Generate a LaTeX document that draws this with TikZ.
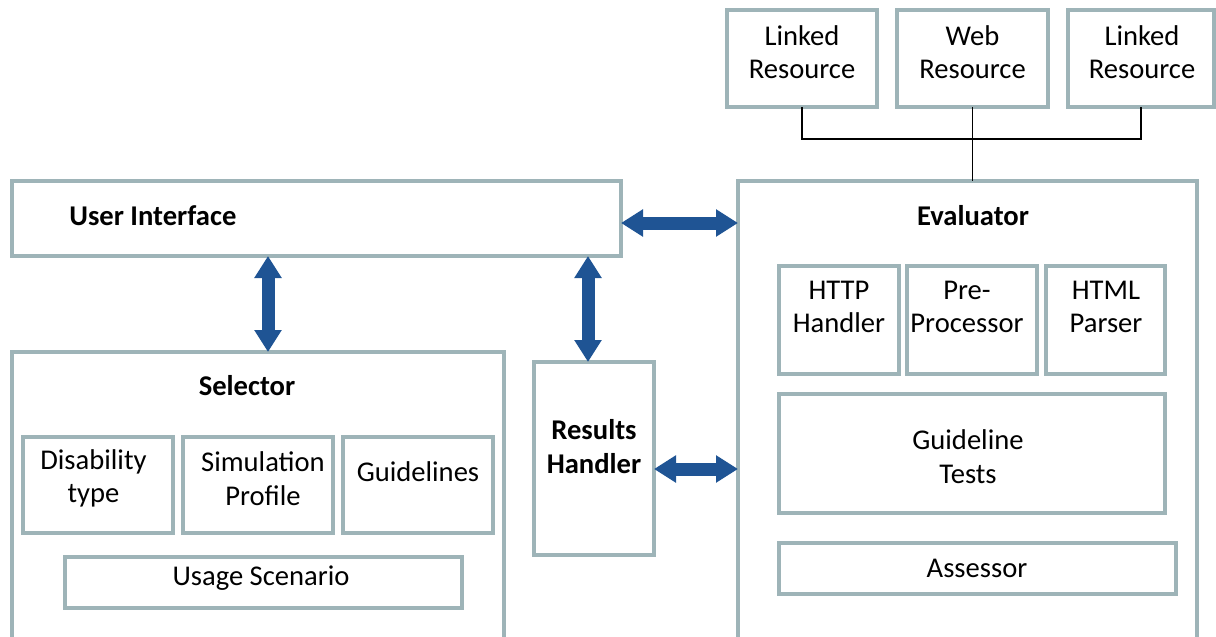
\documentclass[tikz,border=0pt]{standalone}
\usepackage{fontspec}
\setmainfont{Carlito}
\usetikzlibrary{arrows.meta}
\definecolor{boxc}{RGB}{158,180,184}
\definecolor{arrc}{RGB}{31,84,148}
\begin{document}
\begin{tikzpicture}[x=0.5pt,y=-0.5pt,
  box/.style={draw=boxc,line width=2pt,fill=white,inner sep=0pt,outer sep=0pt},
  txt/.style={inner sep=0pt,align=center,font=\fontsize{14.3pt}{16.8pt}\selectfont},
  btxt/.style={txt,font=\fontsize{14.3pt}{16.8pt}\selectfont\bfseries},
  link/.style={draw=black,line width=0.8pt},
  dbl/.style={draw=arrc,line width=6.5pt,{Triangle[width=13pt,length=11pt]}-{Triangle[width=13pt,length=11pt]},shorten <=0pt,shorten >=0pt}]
\useasboundingbox (0,0) rectangle (1216,637);
\clip (0,0) rectangle (1216,637);
% resources
\node[box,minimum width=75pt,minimum height=48.5pt] (lr1) at (802,58.5) {};
\node[box,minimum width=75.5pt,minimum height=48.5pt] (web) at (972.5,58.5) {};
\node[box,minimum width=73pt,minimum height=48.5pt] (lr2) at (1141,58.5) {};
\node[txt] (lr1t) at (802,52) {Linked\\Resource};
\node[txt] (webt) at (972.5,52) {Web\\Resource};
\node[txt] (lr2t) at (1142,52) {Linked\\Resource};
% main boxes
\node[box,minimum width=304.5pt,minimum height=37.5pt] (ui) at (316.5,218.5) {};
\node[btxt,anchor=west] (uit) at (69,216) {User Interface};
\node[box,minimum width=229.5pt,minimum height=239.5pt] (ev) at (967.5,420.5) {};
\node[btxt] (evt) at (973,216) {Evaluator};
\node[box,minimum width=246pt,minimum height=154pt] (sel) at (258,506) {};
\node[btxt] (selt) at (247,386) {Selector};
\node[box,minimum width=60pt,minimum height=96.5pt] (rh) at (594,458.5) {};
\node[btxt] (rht) at (594,446.5) {Results\\Handler};
% selector parts
\node[box,minimum width=75pt,minimum height=48pt] (dis) at (98,485) {};
\node[box,minimum width=75pt,minimum height=48pt] (sim) at (258,485) {};
\node[box,minimum width=75pt,minimum height=48pt] (gui) at (418,485) {};
\node[box,minimum width=198.5pt,minimum height=25.5pt] (use) at (263.5,582.5) {};
\node[txt] (dist) at (93.5,478.5) {Disability\\type};
\node[txt] (simt) at (263,478.5) {Simulation\\Profile};
\node[txt] (guit) at (418,472) {Guidelines};
\node[txt] (uset) at (261,578) {Usage Scenario};
% evaluator parts
\node[box,minimum width=60pt,minimum height=54pt] (http) at (839,320) {};
\node[box,minimum width=65pt,minimum height=54pt] (pre) at (972,320) {};
\node[box,minimum width=59.5pt,minimum height=54pt] (html) at (1105.5,320) {};
\node[box,minimum width=193pt,minimum height=59.5pt] (gt) at (972,453.5) {};
\node[box,minimum width=198.5pt,minimum height=25.5pt] (ass) at (977.5,568.5) {};
\node[txt] (httpt) at (839,307) {HTTP\\Handler};
\node[txt] (pret) at (967,307) {Pre-\\Processor};
\node[txt] (htmlt) at (1106,307) {HTML\\Parser};
\node[txt] (gtt) at (968,456.5) {Guideline\\Tests};
\node[txt] (asst) at (977,568) {Assessor};
% resource connectors
\coordinate (bus) at (0,139);
\draw[link] (lr1.south) -- (lr1.south |- bus) -- (lr2.south |- bus) -- (lr2.south);
\draw[link] (web.south) -- (ev.north -| web.south);
% arrows
\coordinate (yA) at (0,223);
\coordinate (yB) at (0,469);
\coordinate (xA) at (268,0);
\coordinate (xB) at (588,0);
\draw[dbl] (ui.east |- yA) -- (ev.west |- yA);
\draw[dbl] (rh.east |- yB) -- (ev.west |- yB);
\draw[dbl] (ui.south -| xA) -- (sel.north -| xA);
\draw[dbl] (ui.south -| xB) -- (rh.north -| xB);
\end{tikzpicture}
\end{document}
